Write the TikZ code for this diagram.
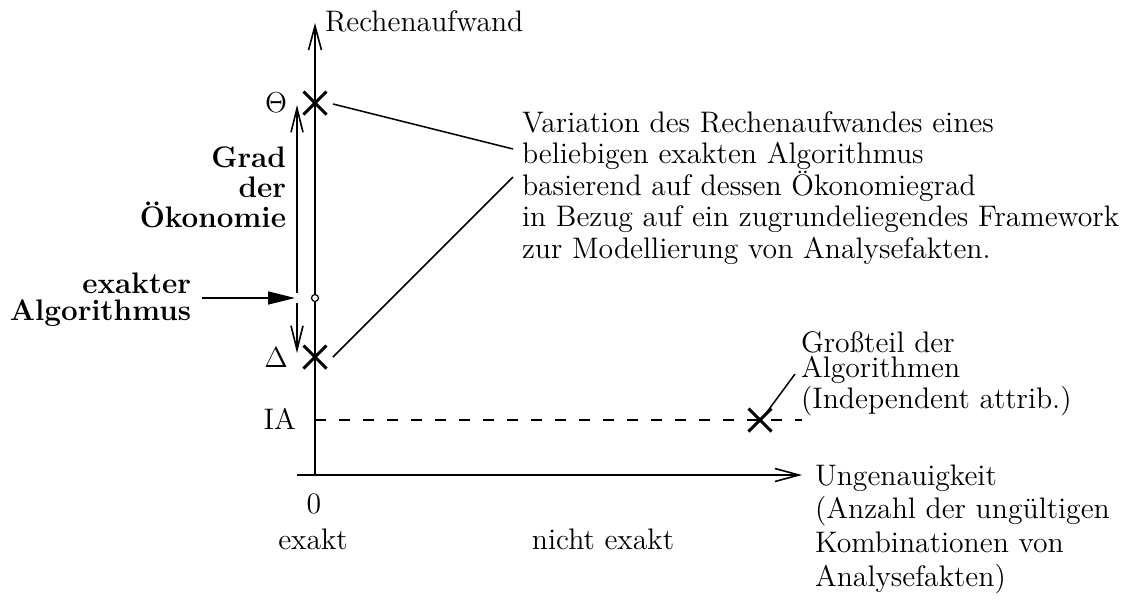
\documentclass[tikz,border=0pt]{standalone}
\usepackage{fontspec}
\usetikzlibrary{arrows.meta,shapes.misc}
\begin{document}
\begin{tikzpicture}[x=0.5pt,y=-0.5pt,
  txt/.style={inner sep=0pt, outer sep=0pt, font=\fontsize{14.85}{15.75}\selectfont},
  boldtxt/.style={inner sep=0pt, outer sep=0pt, align=right},
  axis/.style={line width=1pt, -{Straight Barb[length=12pt,width=6.5pt,line width=0.8pt]}},
  leader/.style={line width=0.75pt},
  xmark/.style={cross out, draw, minimum size=10pt, inner sep=0pt, line width=1.5pt},
  dblarrow/.style={line width=0.8pt, -{Straight Barb[length=12pt,width=6pt,line width=0.8pt]}},
  fillarrow/.style={line width=0.8pt, -{Triangle[length=13.5pt,width=6.5pt]}},
  dashline/.style={line width=0.8pt, dash pattern=on 5.5pt off 6.5pt}]
\useasboundingbox (0,0) rectangle (1126,601);

% axes
\coordinate (o) at (315,475);
\coordinate (ytop) at (315,23);
\coordinate (xleft) at (297,475);
\coordinate (xright) at (802,475);
\draw[line width=1pt] (o) -- (xleft);
\draw[axis] (o) -- (ytop);
\draw[axis] (xleft) -- (xright);

% marks
\node[xmark] (xtheta) at (315,103) {};
\node[xmark] (xdelta) at (315,357) {};
\node[xmark] (xia) at (760,420) {};
\node[circle, draw, fill=white, minimum size=3.5pt, inner sep=0pt, line width=0.6pt] (exact) at (315,298) {};

% dashed IA line
\coordinate (iastart) at (315,420);
\coordinate (iaend) at (802,420);
\draw[dashline] (iastart) -- (iaend);

% labels (multi-line nodes: base = last line's baseline)
\node[txt, anchor=base west] (ylab) at (325,31) {Rechenaufwand};
\node[txt, anchor=base] (theta) at (276,112) {$\Theta$};
\node[txt, anchor=base] (delta) at (276,367) {$\Delta$};
\node[txt, anchor=base east] (ia) at (296,429) {IA};
\node[txt, anchor=base] (zero) at (314,513) {0};
\node[txt, anchor=base] (exakt) at (313,549) {exakt};
\node[txt, anchor=base] (nexakt) at (603,549) {nicht exakt};

\node[boldtxt, anchor=base east, font=\fontsize{14.85}{15}\selectfont\bfseries] (grad) at (286,227) {Grad\\der\\Ökonomie};
\node[boldtxt, anchor=base east, font=\fontsize{14.85}{13.5}\selectfont\bfseries] (exalg) at (191,320) {exakter\\Algorithmus};

\node[txt, align=left, anchor=base west] (var) at (522,258) {Variation des Rechenaufwandes eines\\beliebigen exakten Algorithmus\\basierend auf dessen Ökonomiegrad\\in Bezug auf ein zugrundeliegendes Framework\\zur Modellierung von Analysefakten.};
\node[txt, align=left, anchor=base west, font=\fontsize{14.85}{12.5}\selectfont] (gross) at (801,408) {Großteil der\\Algorithmen\\(Independent attrib.)};
\node[txt, align=left, anchor=base west, font=\fontsize{14.85}{16.8}\selectfont] (ungen) at (815,586) {Ungenauigkeit\\(Anzahl der ungültigen\\Kombinationen von\\Analysefakten)};

% degree of economy arrows
\coordinate (dtop) at (297,105);
\coordinate (dup) at (297,293);
\coordinate (ddown) at (297,303);
\coordinate (dbot) at (297,353);
\draw[dblarrow] (dup) -- (dtop);
\draw[dblarrow] (ddown) -- (dbot);

\coordinate (fa) at (202,298);
\coordinate (fb) at (295,298);
\draw[fillarrow] (fa) -- (fb);

% leader lines
\coordinate (l1a) at (333,104);
\coordinate (l1b) at (513,149);
\coordinate (l2a) at (333,357);
\coordinate (l2b) at (513,177);
\draw[leader] (l1a) -- (l1b);
\draw[leader] (l2a) -- (l2b);
\coordinate (l3a) at (767,412);
\coordinate (l3b) at (795,374);
\draw[leader] (l3a) -- (l3b);
\end{tikzpicture}
\end{document}
